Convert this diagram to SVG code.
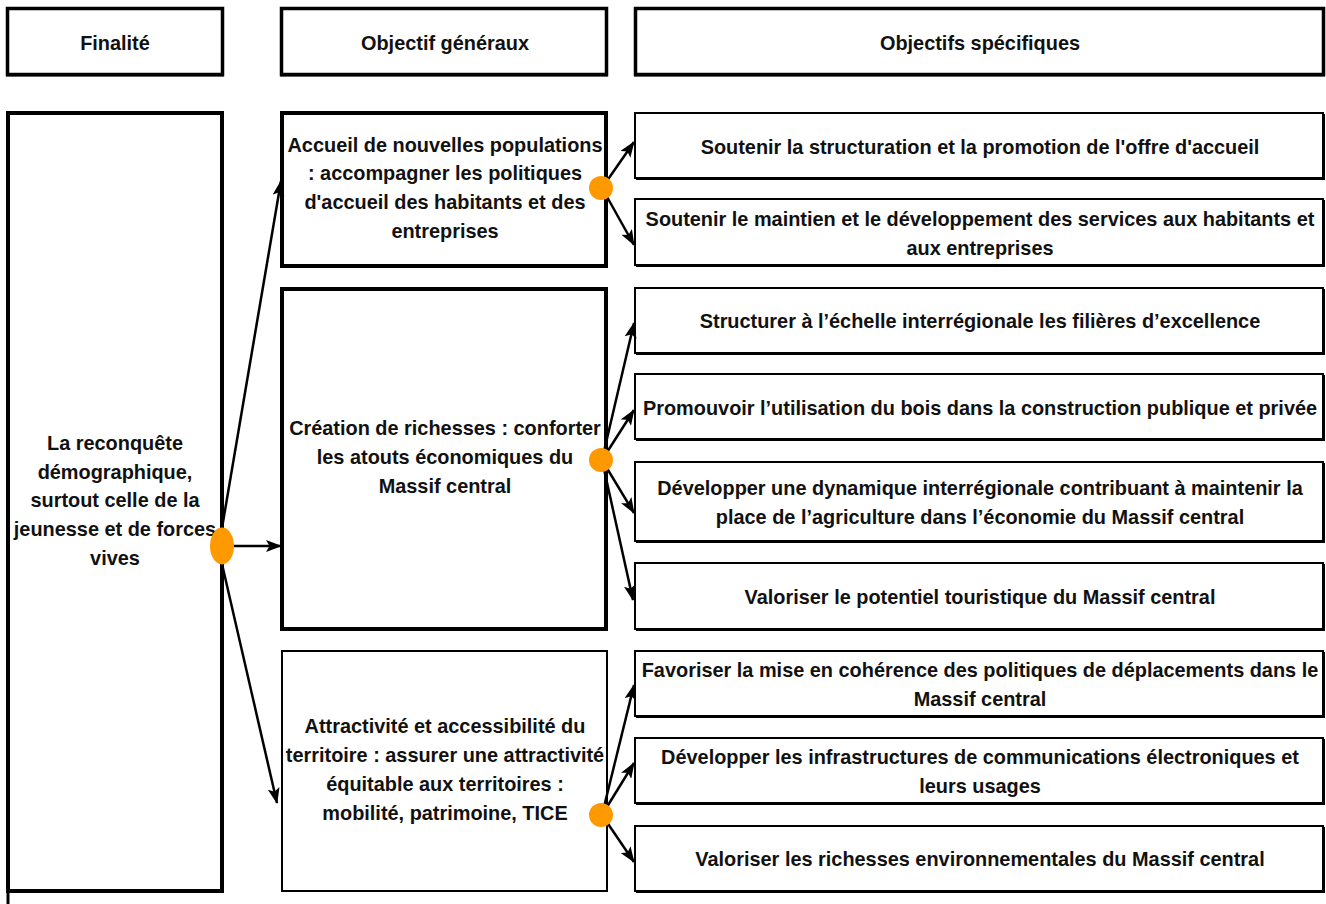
<svg xmlns="http://www.w3.org/2000/svg" width="1326" height="904" viewBox="0 0 1326 904">
<defs>
<style>
text{font-family:"Liberation Sans",Arial,sans-serif;font-weight:bold;font-size:19.9px;fill:#111;text-anchor:middle}
.thick{fill:#fff;stroke:#000;stroke-width:4}
.med{fill:#fff;stroke:#000;stroke-width:3.5}
.thin{fill:#fff;stroke:#000;stroke-width:2}
.sh{fill:none;stroke:#000;stroke-width:2}
.conn{stroke:#000;stroke-width:2.5;fill:none;marker-end:url(#ah)}
.dot{fill:#FF9900}
</style>
<marker id="ah" viewBox="0 0 16 12" refX="15" refY="6" markerWidth="16" markerHeight="12" markerUnits="userSpaceOnUse" orient="auto">
<path d="M0,0 L16,6 L0,12 L3.5,6 z" fill="#000"/>
</marker>
</defs>
<rect width="1326" height="904" fill="#fff"/>

<g id="h-finalite">
<rect class="med" x="7.5" y="8.5" width="215" height="66"/>
<line x1="6" y1="75.5" x2="224" y2="75.5" stroke="#000" stroke-width="2"/>
<text x="115" y="50">Finalité</text>
</g>
<g id="h-generaux">
<rect class="med" x="281.5" y="8.5" width="325" height="66"/>
<line x1="280" y1="75.5" x2="608" y2="75.5" stroke="#000" stroke-width="2"/>
<text x="445" y="50">Objectif généraux</text>
</g>
<g id="h-specifiques">
<rect class="med" x="635.5" y="8.5" width="688" height="66"/>
<line x1="634" y1="75.5" x2="1325" y2="75.5" stroke="#000" stroke-width="2"/>
<text x="980" y="50">Objectifs spécifiques</text>
</g>

<g id="finalite">
<rect class="thick" x="8" y="113" width="214" height="778"/>
<line x1="8" y1="891" x2="8" y2="904" stroke="#000" stroke-width="3"/>
<text x="115" y="450">La reconquête</text>
<text x="115" y="479">démographique,</text>
<text x="115" y="507">surtout celle de la</text>
<text x="115" y="536">jeunesse et de forces</text>
<text x="115" y="565">vives</text>
</g>

<g id="og-accueil">
<rect class="thick" x="282" y="113" width="324" height="153"/>
<text x="445" y="152">Accueil de nouvelles populations</text>
<text x="445" y="180">: accompagner les politiques</text>
<text x="445" y="209">d'accueil des habitants et des</text>
<text x="445" y="238">entreprises</text>
</g>
<g id="og-creation">
<rect class="thick" x="282" y="289" width="324" height="340"/>
<text x="445" y="435">Création de richesses : conforter</text>
<text x="445" y="464">les atouts économiques du</text>
<text x="445" y="493">Massif central</text>
</g>
<g id="og-attractivite">
<rect class="thin" x="282" y="651" width="325" height="240"/>
<text x="445" y="733">Attractivité et accessibilité du</text>
<text x="445" y="762">territoire : assurer une attractivité</text>
<text x="445" y="791">équitable aux territoires :</text>
<text x="445" y="820">mobilité, patrimoine, TICE</text>
</g>

<g id="os1">
<rect class="thin" x="635" y="113" width="688" height="65"/>
<path class="sh" d="M636,179 H1324 V114"/>
<text x="980" y="154">Soutenir la structuration et la promotion de l'offre d'accueil</text>
</g>
<g id="os2">
<rect class="thin" x="635" y="199" width="688" height="66"/>
<path class="sh" d="M636,266 H1324 V200"/>
<text x="980" y="226">Soutenir le maintien et le développement des services aux habitants et</text>
<text x="980" y="255">aux entreprises</text>
</g>
<g id="os3">
<rect class="thin" x="635" y="288" width="688" height="65"/>
<path class="sh" d="M636,354 H1324 V289"/>
<text x="980" y="328">Structurer à l’échelle interrégionale les filières d’excellence</text>
</g>
<g id="os4">
<rect class="thin" x="635" y="374" width="688" height="65"/>
<path class="sh" d="M636,440 H1324 V375"/>
<text x="980" y="415">Promouvoir l’utilisation du bois dans la construction publique et privée</text>
</g>
<g id="os5">
<rect class="thin" x="635" y="462" width="688" height="79"/>
<path class="sh" d="M636,542 H1324 V463"/>
<text x="980" y="495">Développer une dynamique interrégionale contribuant à maintenir la</text>
<text x="980" y="524">place de l’agriculture dans l’économie du Massif central</text>
</g>
<g id="os6">
<rect class="thin" x="635" y="563" width="688" height="66"/>
<path class="sh" d="M636,630 H1324 V564"/>
<text x="980" y="604">Valoriser le potentiel touristique du Massif central</text>
</g>
<g id="os7">
<rect class="thin" x="635" y="651" width="688" height="65"/>
<path class="sh" d="M636,717 H1324 V652"/>
<text x="980" y="677">Favoriser la mise en cohérence des politiques de déplacements dans le</text>
<text x="980" y="706">Massif central</text>
</g>
<g id="os8">
<rect class="thin" x="635" y="738" width="688" height="65"/>
<path class="sh" d="M636,804 H1324 V739"/>
<text x="980" y="764">Développer les infrastructures de communications électroniques et</text>
<text x="980" y="793">leurs usages</text>
</g>
<g id="os9">
<rect class="thin" x="635" y="826" width="688" height="65"/>
<path class="sh" d="M636,892 H1324 V827"/>
<text x="980" y="866">Valoriser les richesses environnementales du Massif central</text>
</g>

<g id="connectors">
<line class="conn" x1="222" y1="528" x2="281" y2="181"/>
<line class="conn" x1="222" y1="546" x2="281" y2="546"/>
<line class="conn" x1="222" y1="564" x2="277" y2="803"/>
<line class="conn" x1="602" y1="188" x2="634" y2="142"/>
<line class="conn" x1="602" y1="188" x2="634" y2="245"/>
<line class="conn" x1="602" y1="460" x2="634" y2="323"/>
<line class="conn" x1="602" y1="460" x2="634" y2="410"/>
<line class="conn" x1="602" y1="460" x2="634" y2="513"/>
<line class="conn" x1="602" y1="460" x2="633" y2="600"/>
<line class="conn" x1="602" y1="815" x2="634" y2="685"/>
<line class="conn" x1="602" y1="815" x2="634" y2="763"/>
<line class="conn" x1="602" y1="815" x2="634" y2="862"/>
<ellipse class="dot" cx="222" cy="546" rx="12" ry="18.5"/>
<circle class="dot" cx="601" cy="188" r="12"/>
<circle class="dot" cx="601" cy="460" r="12"/>
<circle class="dot" cx="601" cy="815" r="12"/>
</g>
</svg>
